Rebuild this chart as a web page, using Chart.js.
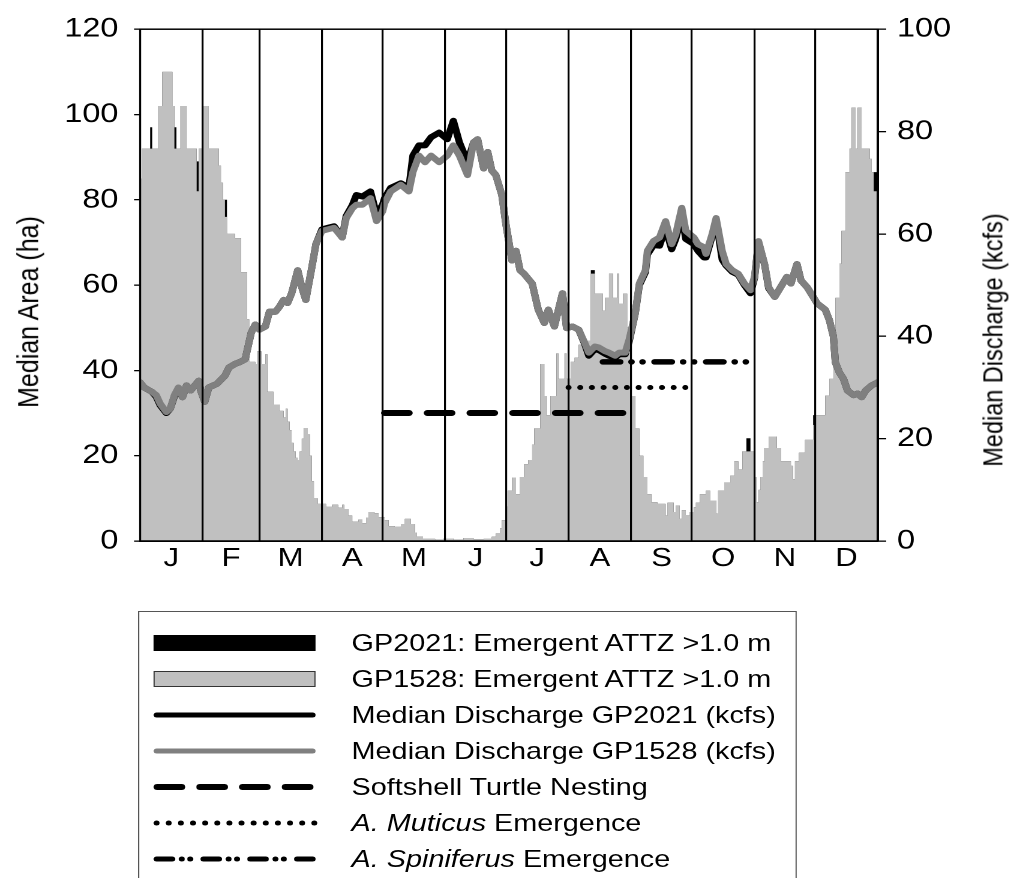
<!DOCTYPE html>
<html>
<head>
<meta charset="utf-8">
<script src="https://cdn.jsdelivr.net/npm/chart.js@4.4.1/dist/chart.umd.min.js"></script>
<style>
  html, body { margin:0; padding:0; background:#fff; overflow:hidden; }
  body { width:1013px; height:878px; position:relative; font-family:"Liberation Sans", Arial, sans-serif; color:#000; }
  #wrap { position:absolute; left:0; top:0; width:844.17px; height:878px; transform:scaleX(1.2); transform-origin:0 0; }
  #c { position:absolute; left:0; top:0; }
  .ytitle { position:absolute; white-space:nowrap; transform:translate(-50%,-50%) rotate(-90deg); }
  #legend { position:absolute; left:115px; top:611px; width:549px; height:290px; border:1px solid #555; box-sizing:border-box; }
  .row { position:absolute; left:0; height:36px; }
  .row svg { position:absolute; left:128px; top:8px; overflow:visible; }
  .row .txt { position:absolute; left:293px; top:0; height:36px; line-height:36px; font-size:24px; white-space:nowrap; }
</style>
</head>
<body>
<div id="wrap">
  <canvas id="c"></canvas>
  <div class="ytitle" style="left:23px; top:312px; font-size:25px;">Median Area (ha)</div>
  <div class="ytitle" style="left:828px; top:340px; font-size:23.5px;">Median Discharge (kcfs)</div>
  <div id="legend-rows"></div>
  <div id="legend"></div>
</div>
<script>
// ---------------- data ----------------
const monthStarts = [0,31,59,90,120,151,181,212,243,273,304,334,365];
const monthLabels = ['J','F','M','A','M','J','J','A','S','O','N','D'];

// Emergent ATTZ area (ha), left axis; values hold from each day to the next listed day
const areaDays = [0,1,5,6,9,11,16,17,18,20,23,28,29,31,34,39,40,41,42,43,47,50,53,54,57,58,60,62,63,66,69,71,72,73,74,75,76,77,78,79,80,81,83,84,85,86,88,92,95,98,100,101,103,105,108,110,112,113,116,118,121,123,126,129,131,134,136,137,140,146,150,155,160,165,170,174,176,178,179,181,182,184,186,188,190,192,194,195,198,200,201,203,206,207,210,211,213,215,217,219,223,225,229,230,232,234,236,237,239,241,242,243,245,247,249,251,253,256,260,261,264,265,267,268,270,272,274,275,277,280,282,285,286,289,292,294,296,298,300,302,304,305,306,307,308,309,311,315,317,322,323,324,326,329,333,334,339,341,343,344,346,347,349,351,352,354,355,357,361,362,363,365];
const areaGP1528 = [85,92,92,92,102,110,102,92,92,102,92,82,92,102,92,88,84,80,76,72,71,63,52,42,41.5,44.5,41.5,43.8,35,32,30.5,29,31,28,26,23,21,19.5,19,21,24,26.5,25,20,14,10,8.7,8,8.5,7.8,8.5,7.5,6,4.5,5,4.2,5.5,6.8,6.5,5.6,4.9,3.5,3.3,4,5.2,4,2,1,0.5,0.3,0.6,0.3,0.7,0.4,0.6,1,1.8,3,4.9,8,11.8,14.9,11,15,18,19,22.6,26.4,41.5,34,29.5,34,44,38,44,38,42,43,46,47,62.7,58,54,57,62.7,57,62.7,55.7,58,50,44,34,26.4,20,15,11,9.1,8.7,6,9,6.8,8.3,5.2,7.2,6,6.8,7.9,9,11,11.8,9.5,6.4,11.8,13.7,15.3,18.7,16.8,21,21,21,15,9.1,12,15,18.7,21.8,24.5,21.8,18.7,17.6,14.5,18.7,20.7,23.7,27.2,29.5,34.1,38,43,57,65,72.7,86.5,92,101.6,92,101.6,92,89.6,86.5,82,82];
const areaGP2021 = [85,92,97,92,102,110,102,97,92,102,92,89,92,102,92,88,84,80,80,72,71,63,52,42,41.5,44.5,41.5,43.8,35,32,30.5,29,31,28,26,23,21,19.5,19,21,24,26.5,25,20,14,10,8.7,8,8.5,7.8,8.5,7.5,6,4.5,5,4.2,5.5,6.8,6.5,5.6,4.9,3.5,3.3,4,5.2,4,2,1,0.5,0.3,0.6,0.3,0.7,0.4,0.6,1,1.8,3,4.9,8,11.8,14.9,11,15,18,19,22.6,26.4,41.5,34,29.5,34,44,38,44,38,42,43,46,47,63.5,58,54,57,62.7,57,62.7,55.7,58,50,44,34,26.4,20,15,11,9.1,8.7,6,9,6.8,8.3,5.2,7.2,6,6.8,7.9,9,11,11.8,9.5,6.4,11.8,13.7,15.3,18.7,16.8,21,24.1,21,15,9.1,12,15,18.7,21.8,24.5,21.8,18.7,17.6,14.5,18.7,20.7,23.7,29.5,29.5,34.1,38,43,57,65,72.7,86.5,92,101.6,92,101.6,92,89.6,86.5,86.5,86.5];

// Median discharge (kcfs), right axis
const qDays = [
  0,2,6,8,10,13,15,17,19,21,
  23,25,29,30,32,34,38,42,44,47,
  49,52,55,57,59,62,64,67,69,71,
  73,75,78,80,82,85,87,90,93,96,
  100,102,105,107,110,114,117,120,121,124,
  129,133,135,138,141,144,148,152,155,158,
  162,165,167,170,172,174,176,179,181,184,
  186,188,190,194,197,200,202,205,207,209,
  211,214,217,220,222,225,227,230,232,235,
  237,240,242,245,247,250,251,254,257,260,
  263,265,268,270,274,276,279,280,283,285,
  288,290,293,296,299,302,304,306,309,311,
  314,316,320,322,325,327,330,333,335,339,
  341,343,344,346,348,350,353,355,357,359,
  362,365];
const qGP1528 = [
  31.0,30.0,29.1,28.5,26.8,25.2,25.9,28.5,30.0,28.1,
  30.4,29.4,31.3,29.4,27.2,30.0,30.7,32.3,33.9,34.6,
  34.9,35.5,40.7,42.3,41.3,41.9,44.8,44.8,45.8,47.1,
  46.5,48.4,52.9,49.6,47.1,53.5,58.0,60.6,60.9,61.2,
  59.3,63.1,65.0,65.7,65.7,67.0,62.5,64.4,66.0,68.3,
  69.6,68.3,72.1,75.3,74.0,75.3,74.0,75.3,77.3,75.3,
  71.5,77.9,78.5,72.8,76.0,72.4,71.5,67.6,61.9,54.8,
  56.7,52.9,52.2,50.3,45.2,42.6,45.2,41.9,45.2,48.4,
  41.6,41.9,41.3,38.7,36.8,38.0,37.8,37.1,36.8,36.2,
  36.8,36.8,39.4,44.5,50.3,52.9,56.7,58.6,59.3,62.5,
  58.0,59.9,65.1,60.6,59.3,58.0,57.4,56.1,59.9,63.1,
  56.7,54.1,52.9,52.2,50.3,49.0,51.6,58.6,54.1,49.6,
  47.7,49.0,51.6,50.3,54.1,50.9,49.6,47.7,46.4,45.2,
  43.2,40.0,34.9,32.9,31.7,29.4,28.5,28.8,28.1,29.4,
  30.4,31.0];
const qGP2021 = [
  31.0,30.0,29.1,28.2,26.5,25.0,25.9,28.3,29.6,28.1,
  30.4,29.4,31.3,29.4,27.2,30.0,30.7,32.3,33.9,34.6,
  34.9,35.5,40.7,42.3,41.3,41.9,44.8,44.8,45.8,47.1,
  46.5,48.4,52.9,49.6,47.1,53.5,58.0,60.9,61.2,61.5,
  59.3,63.5,65.6,67.6,67.3,68.3,63.8,65.7,67.0,69.0,
  69.9,69.0,75.3,77.3,77.3,78.9,79.8,78.5,82.1,77.9,
  74.0,77.9,78.5,72.8,76.0,72.4,71.5,67.6,61.9,54.8,
  56.7,52.9,52.2,50.3,45.2,42.6,45.2,41.9,45.2,48.4,
  41.6,41.9,41.3,38.5,36.2,37.5,37.3,36.6,36.2,35.8,
  36.5,36.5,39.0,44.5,50.0,52.5,56.0,57.8,57.7,61.2,
  57.0,59.0,63.8,59.0,58.0,56.7,55.4,55.4,59.5,62.8,
  55.0,53.8,52.6,52.0,50.0,48.4,51.4,58.4,54.0,49.4,
  47.7,49.0,51.6,50.3,54.1,50.9,49.6,47.7,46.4,45.2,
  43.2,40.0,34.9,32.9,31.7,29.4,28.5,28.8,28.1,29.4,
  30.4,31.0];

// Life-history windows (day span, plotted on discharge axis)
const softshellDays = [121, 243];  const softshellLevel = 25;
const muticusDays = [212, 272];    const muticusLevel = 30;
const spiniferusDays = [229, 304]; const spiniferusLevel = 35;

// ---------------- chart ----------------
const FONT = '"Liberation Sans", Arial, sans-serif';
Chart.defaults.font.family = FONT;
Chart.defaults.color = '#000';

const pts = (xs, ys) => xs.map((x, i) => ({x: x, y: ys[i]}));
const span = (days, lvl) => days.map(d => ({x: d, y: lvl}));
const monthMids = monthStarts.slice(0, -1).map((s, i) => (s + monthStarts[i + 1]) / 2);

const frame = {
  id: 'frame',
  afterDraw(chart) {
    const {ctx, chartArea: a} = chart;
    ctx.save();
    ctx.strokeStyle = '#000';
    ctx.lineWidth = 1.5;
    ctx.strokeRect(a.left, a.top, a.right - a.left, a.bottom - a.top);
    ctx.restore();
  }
};

const canvas = document.getElementById('c');
canvas.width = 844; canvas.height = 600;

new Chart(canvas, {
  type: 'line',
  data: {
    datasets: [
      { label: 'Softshell Turtle Nesting', data: span(softshellDays, softshellLevel), yAxisID: 'yR', order: 0,
        borderColor: '#000', borderWidth: 6, borderDash: [20.4, 15.2], borderCapStyle: 'round', pointRadius: 0, fill: false },
      { label: 'A. Muticus Emergence', data: span(muticusDays, muticusLevel), yAxisID: 'yR', order: 1,
        borderColor: '#000', borderWidth: 5, borderDash: [0.01, 9.72], borderCapStyle: 'round', pointRadius: 0, fill: false },
      { label: 'A. Spiniferus Emergence', data: span(spiniferusDays, spiniferusLevel), yAxisID: 'yR', order: 2,
        borderColor: '#000', borderWidth: 5.5, borderDash: [14.4, 9.4, 0.01, 9.2, 0.01, 10], borderCapStyle: 'round', pointRadius: 0, fill: false },
      { label: 'Median Discharge GP1528 (kcfs)', data: pts(qDays, qGP1528), yAxisID: 'yR', order: 3,
        borderColor: '#808080', borderWidth: 6, borderJoinStyle: 'round', borderCapStyle: 'round', pointRadius: 0, tension: 0, fill: false },
      { label: 'Median Discharge GP2021 (kcfs)', data: pts(qDays, qGP2021), yAxisID: 'yR', order: 4,
        borderColor: '#000', borderWidth: 6, borderJoinStyle: 'round', borderCapStyle: 'round', pointRadius: 0, tension: 0, fill: false },
      { label: 'GP1528: Emergent ATTZ >1.0 m', data: pts(areaDays, areaGP1528), yAxisID: 'yL', order: 5,
        stepped: true, borderWidth: 0, borderColor: 'rgba(0,0,0,0)', backgroundColor: '#c0c0c0', pointRadius: 0, fill: 'origin' },
      { label: 'GP2021: Emergent ATTZ >1.0 m', data: pts(areaDays, areaGP2021), yAxisID: 'yL', order: 6,
        stepped: true, borderWidth: 0, borderColor: 'rgba(0,0,0,0)', backgroundColor: '#000', pointRadius: 0, fill: 'origin' }
    ]
  },
  options: {
    responsive: false,
    animation: false,
    devicePixelRatio: 2,
    layout: { padding: { top: 22, left: 0, right: 0, bottom: 0 } },
    plugins: { legend: { display: false }, tooltip: { enabled: false }, title: { display: false } },
    scales: {
      x: {
        type: 'linear', min: 0, max: 365, position: 'bottom',
        afterBuildTicks: s => { s.ticks = monthStarts.concat(monthMids).sort((a, b) => a - b).map(v => ({value: v})); },
        afterFit: s => { s.height = 59; },
        ticks: {
          autoSkip: false, maxRotation: 0, minRotation: 0, padding: 2,
          font: { size: 26, family: FONT }, color: '#000',
          callback: v => { const i = monthMids.indexOf(v); return i >= 0 ? monthLabels[i] : ''; }
        },
        grid: {
          drawTicks: false, z: 1, lineWidth: 1.6,
          color: c => (c.tick && monthStarts.includes(c.tick.value)) ? '#000' : 'rgba(0,0,0,0)'
        },
        border: { display: true, color: '#000', width: 1.5, z: 1 }
      },
      yL: {
        type: 'linear', position: 'left', min: 0, max: 120,
        afterFit: s => { s.width = 116.7; },
        ticks: { stepSize: 20, padding: 13, font: { size: 27, family: FONT }, color: '#000' },
        grid: { drawOnChartArea: false, drawTicks: true, tickLength: 5, color: '#000', lineWidth: 1.3, z: 1 },
        border: { display: true, color: '#000', width: 1.5, z: 1 }
      },
      yR: {
        type: 'linear', position: 'right', min: 0, max: 100,
        afterFit: s => { s.width = 112.5; },
        ticks: { stepSize: 20, padding: 9, font: { size: 27, family: FONT }, color: '#000' },
        grid: { drawOnChartArea: false, drawTicks: true, tickLength: 7, color: '#000', lineWidth: 1.3, z: 1 },
        border: { display: true, color: '#000', width: 1.5, z: 1 }
      }
    }
  },
  plugins: [frame]
});

// ---------------- legend (HTML) ----------------
const legendItems = [
  { html: 'GP2021: Emergent ATTZ &gt;1.0 m', svg: '<rect x="0" y="2" width="135" height="16" fill="#000"/>' },
  { html: 'GP1528: Emergent ATTZ &gt;1.0 m', svg: '<rect x="0.5" y="2.5" width="134" height="15" fill="#c0c0c0" stroke="#333" stroke-width="1"/>' },
  { html: 'Median Discharge GP2021 (kcfs)', svg: '<line x1="2.5" y1="10" x2="132.5" y2="10" stroke="#000" stroke-width="5" stroke-linecap="round"/>' },
  { html: 'Median Discharge GP1528 (kcfs)', svg: '<line x1="2.5" y1="10" x2="132.5" y2="10" stroke="#808080" stroke-width="5" stroke-linecap="round"/>' },
  { html: 'Softshell Turtle Nesting', svg: '<line x1="3" y1="10" x2="135" y2="10" stroke="#000" stroke-width="6" stroke-linecap="round" stroke-dasharray="20.4 15.2"/>' },
  { html: '<i>A. Muticus</i> Emergence', svg: '<line x1="2.5" y1="10" x2="134" y2="10" stroke="#000" stroke-width="5" stroke-linecap="round" stroke-dasharray="0.01 10.1"/>' },
  { html: '<i>A. Spiniferus</i> Emergence', svg: '<line x1="2.5" y1="10" x2="133" y2="10" stroke="#000" stroke-width="5" stroke-linecap="round" stroke-dasharray="13 8 0.01 7 0.01 11"/>' }
];
const rowCenters = [643, 679, 715, 751, 787, 823, 859];
const rowsEl = document.getElementById('legend-rows');
legendItems.forEach((it, i) => {
  const r = document.createElement('div');
  r.className = 'row';
  r.style.top = (rowCenters[i] - 18) + 'px';
  r.innerHTML = '<svg width="135" height="20" viewBox="0 0 135 20">' + it.svg + '</svg><div class="txt">' + it.html + '</div>';
  rowsEl.appendChild(r);
});
</script>
</body>
</html>
